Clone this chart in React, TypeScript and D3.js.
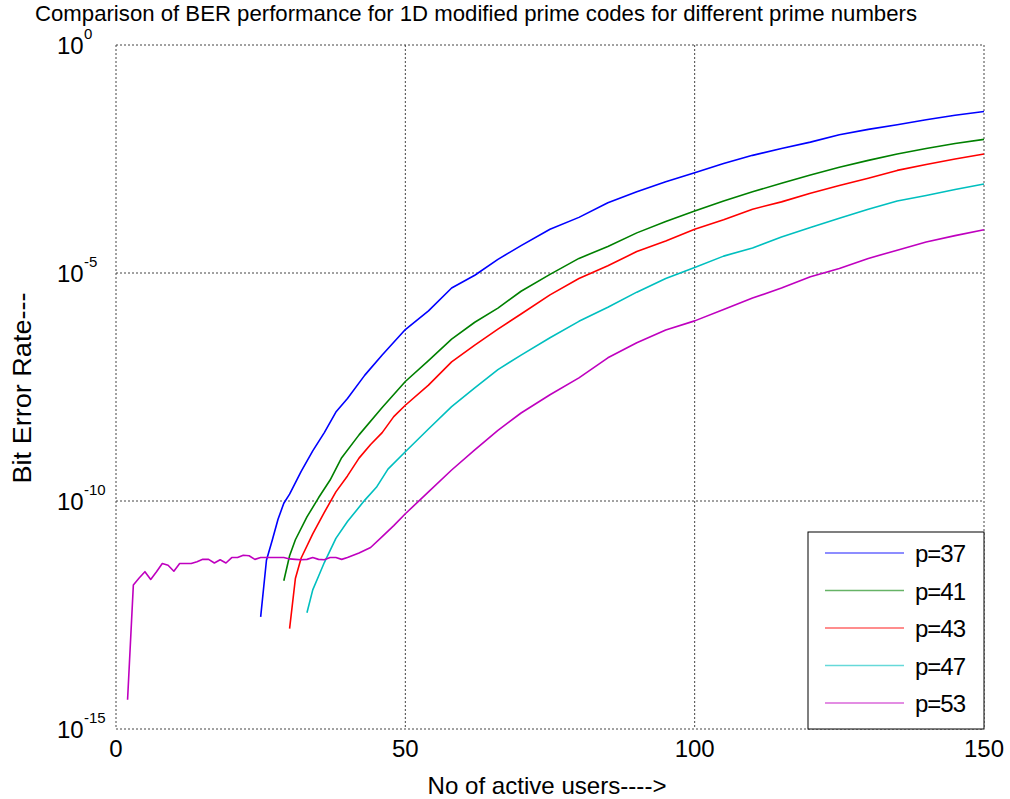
import React from "react";
import * as d3 from "d3";

const title = "Comparison of BER performance for 1D modified prime codes for different prime numbers";
const xLabel = "No of active users---->";
const yLabel = "Bit Error Rate---";

const xTicks = [0, 50, 100, 150];
const yTickExps = [0, -5, -10, -15];

// log10(BER) values
const p37x = [25, 26, 27, 28, 29, 30, 32, 34, 36, 38, 40, 43, 46, 50, 54, 58, 62, 66, 70, 75, 80, 85, 90, 95, 100, 105, 110, 115, 120, 125, 130, 135, 140, 145, 150];
const p37y = [-12.54, -11.3, -10.86, -10.4, -10.05, -9.85, -9.35, -8.9, -8.5, -8.05, -7.75, -7.24, -6.8, -6.24, -5.83, -5.33, -5.05, -4.7, -4.4, -4.04, -3.78, -3.46, -3.22, -3.0, -2.8, -2.6, -2.42, -2.27, -2.13, -1.97, -1.85, -1.75, -1.64, -1.54, -1.46];

const p41x = [29, 30, 31, 33, 35, 37, 39, 42, 46, 50, 54, 58, 62, 66, 70, 75, 80, 85, 90, 95, 100, 105, 110, 115, 120, 125, 130, 135, 140, 145, 150];
const p41y = [-11.75, -11.2, -10.85, -10.35, -9.93, -9.54, -9.05, -8.55, -7.95, -7.38, -6.92, -6.45, -6.08, -5.77, -5.4, -5.03, -4.68, -4.42, -4.12, -3.87, -3.64, -3.42, -3.22, -3.03, -2.85, -2.68, -2.53, -2.39, -2.27, -2.16, -2.07];

const p43x = [30, 31, 32, 34, 36, 38, 40, 42, 44, 46, 48, 50, 54, 58, 62, 66, 70, 75, 80, 85, 90, 95, 100, 105, 110, 115, 120, 125, 130, 135, 140, 145, 150];
const p43y = [-12.8, -11.7, -11.25, -10.72, -10.25, -9.8, -9.45, -9.06, -8.76, -8.5, -8.15, -7.9, -7.46, -6.95, -6.58, -6.23, -5.9, -5.48, -5.12, -4.84, -4.53, -4.3, -4.04, -3.83, -3.6, -3.44, -3.25, -3.08, -2.92, -2.75, -2.62, -2.5, -2.39];

const p47x = [33, 34, 35, 36, 38, 40, 43, 45, 47, 50, 54, 58, 62, 66, 70, 75, 80, 85, 90, 95, 100, 105, 110, 115, 120, 125, 130, 135, 140, 145, 150];
const p47y = [-12.45, -11.95, -11.65, -11.35, -10.82, -10.45, -9.98, -9.7, -9.3, -8.92, -8.42, -7.93, -7.52, -7.12, -6.8, -6.42, -6.06, -5.75, -5.42, -5.12, -4.88, -4.63, -4.45, -4.21, -4.0, -3.8, -3.6, -3.42, -3.3, -3.17, -3.05];

const p53x = [2, 3, 4, 5, 6, 7, 8, 9, 10, 11, 12, 13, 14, 15, 16, 17, 18, 19, 20, 21, 22, 23, 24, 25, 26, 27, 28, 29, 30, 31, 32, 33, 34, 35, 36, 37, 38, 39, 40, 42, 44, 46, 48, 50, 54, 58, 62, 66, 70, 75, 80, 85, 90, 95, 100, 105, 110, 115, 120, 125, 130, 135, 140, 145, 150];
const p53y = [-14.36, -11.84, -11.69, -11.55, -11.72, -11.55, -11.37, -11.41, -11.54, -11.37, -11.37, -11.37, -11.33, -11.28, -11.28, -11.36, -11.29, -11.36, -11.24, -11.24, -11.19, -11.2, -11.28, -11.24, -11.24, -11.24, -11.24, -11.24, -11.27, -11.28, -11.29, -11.28, -11.24, -11.28, -11.29, -11.24, -11.24, -11.28, -11.24, -11.14, -11.02, -10.78, -10.54, -10.28, -9.8, -9.32, -8.88, -8.45, -8.07, -7.67, -7.3, -6.86, -6.53, -6.25, -6.05, -5.8, -5.55, -5.33, -5.08, -4.9, -4.68, -4.5, -4.32, -4.18, -4.05];

const seriesNames = ["p=37", "p=41", "p=43", "p=47", "p=53"];
const seriesColors = ["#0000ff", "#008000", "#ff0000", "#00bfbf", "#bf00bf"];
const seriesX = [p37x, p41x, p43x, p47x, p53x];
const seriesY = [p37y, p41y, p43y, p47y, p53y];

const W = 1010;
const H = 799;
const M = { left: 116, right: 984, top: 45, bottom: 729 };
const FONT = "'Liberation Sans', Arial, sans-serif";

export default function App() {
  const x = d3.scaleLinear().domain([0, 150]).range([M.left, M.right]);
  const y = d3.scaleLog().domain([1e-15, 1]).range([M.bottom, M.top]);
  const line = d3
    .line<[number, number]>()
    .x((d) => x(d[0]))
    .y((d) => y(Math.pow(10, d[1])));

  const gridStyle = { stroke: "#444", strokeWidth: 1, strokeDasharray: "2,2", fill: "none" };

  const legend = { x0: 808, y0: 532, x1: 984, y1: 729 };
  const rowY = (i: number) => 553 + i * 37.5;

  return (
    <svg width={W} height={H} style={{ position: "absolute", left: 0, top: 0, background: "#fff" }}>
      <rect x={0} y={0} width={W} height={H} fill="#fff" />
      <text x={35} y={21} fontFamily={FONT} fontSize={22} textLength={882} lengthAdjust="spacingAndGlyphs" fill="#000">
        {title}
      </text>

      {/* grid and frame */}
      {xTicks.map((t) => (
        <line key={"gx" + t} x1={x(t)} x2={x(t)} y1={M.top} y2={M.bottom} style={gridStyle} />
      ))}
      {yTickExps.map((e) => (
        <line key={"gy" + e} x1={M.left} x2={M.right} y1={y(Math.pow(10, e))} y2={y(Math.pow(10, e))} style={gridStyle} />
      ))}

      {/* curves */}
      {seriesX.map((xs, i) => (
        <path
          key={seriesNames[i]}
          d={line(xs.map((v, j) => [v, seriesY[i][j]] as [number, number])) || ""}
          fill="none"
          stroke={seriesColors[i]}
          strokeWidth={1.6}
          strokeLinejoin="round"
        />
      ))}

      {/* y tick labels */}
      {yTickExps.map((e) => {
        const ty = y(Math.pow(10, e));
        return (
          <g key={"yl" + e} fontFamily={FONT} fill="#000">
            <text x={57} y={ty + 9} fontSize={24}>10</text>
            <text x={84} y={ty - 6} fontSize={15}>{String(e)}</text>
          </g>
        );
      })}

      {/* x tick labels */}
      {xTicks.map((t) => (
        <text key={"xl" + t} x={x(t)} y={757} fontFamily={FONT} fontSize={24} textAnchor="middle" fill="#000">
          {t}
        </text>
      ))}

      <text x={547} y={794} fontFamily={FONT} fontSize={24} textAnchor="middle" textLength={239} lengthAdjust="spacingAndGlyphs" fill="#000">
        {xLabel}
      </text>
      <text
        transform={`translate(31,388) rotate(-90)`}
        fontFamily={FONT}
        fontSize={25}
        textAnchor="middle"
        textLength={191}
        lengthAdjust="spacingAndGlyphs"
        fill="#000"
      >
        {yLabel}
      </text>

      {/* legend */}
      <rect x={legend.x0} y={legend.y0} width={legend.x1 - legend.x0} height={legend.y1 - legend.y0} fill="#fff" stroke="#000" strokeWidth={1} />
      {seriesNames.map((n, i) => (
        <g key={"lg" + n}>
          <line x1={825} x2={904} y1={rowY(i)} y2={rowY(i)} stroke={seriesColors[i]} strokeWidth={1.5} strokeOpacity={0.6} />
          <text x={915} y={rowY(i) + 9} fontFamily={FONT} fontSize={24} fill="#000" letterSpacing={-1}>
            {n}
          </text>
        </g>
      ))}
    </svg>
  );
}
